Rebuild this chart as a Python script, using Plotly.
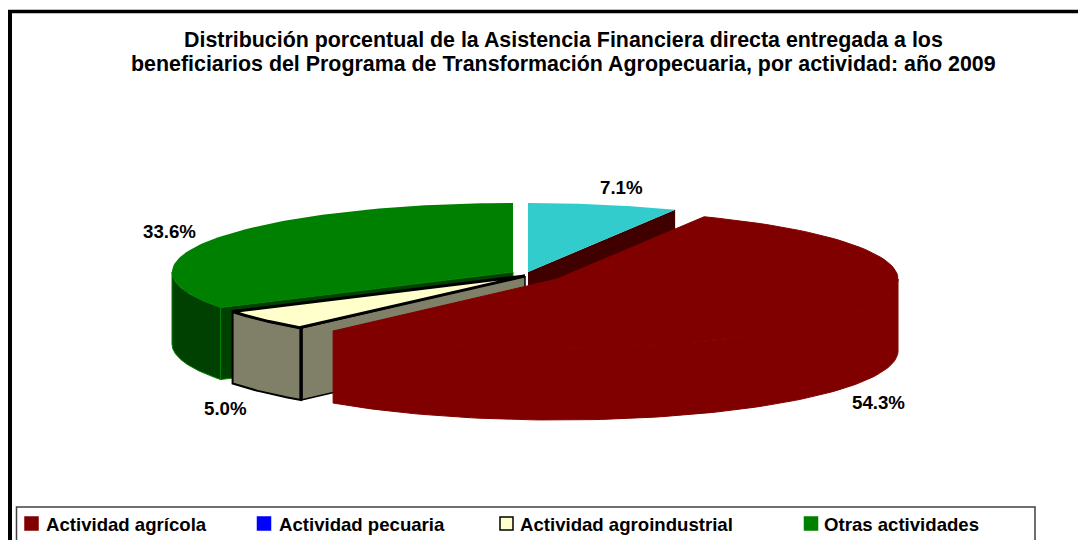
import numpy as np
import plotly.graph_objects as go

title_lines = ["Distribución porcentual de la Asistencia Financiera directa entregada a los",
               "beneficiarios del Programa de Transformación Agropecuaria, por actividad: año 2009"]
title_y = [40, 64]

# Clockwise from 12 o'clock
slice_names = ["Sin clasificar", "Actividad agrícola", "Actividad pecuaria",
               "Actividad agroindustrial", "Otras actividades"]
slice_values = [7.1, 54.3, 0.0, 5.0, 33.6]
slice_labels = ["7.1%", "54.3%", "", "5.0%", "33.6%"]

legend_names = ["Actividad agrícola", "Actividad pecuaria",
                "Actividad agroindustrial", "Otras actividades"]
legend_colors = ["#800000", "#0000FF", "#FFFFCC", "#008000"]
legend_lines = ["#800000", "#0000FF", "#000000", "#008000"]
legend_swatch_x = [31.5, 264, 506.5, 811]
legend_text_x = [46, 279, 520, 824]

# pie projection
RX, RY, DEPTH = 341.0, 69.0, 72.0
apex = {"Sin clasificar": (528, 272), "Actividad agrícola": (557, 279),
        "Actividad agroindustrial": (525, 276), "Otras actividades": (513, 272)}
FONT = "Liberation Sans, Arial, sans-serif"

total = sum(slice_values)
edges = np.cumsum([0] + slice_values) / total * 2 * np.pi


def arc(name, a0, a1, n=90):
    cx, cy = apex[name]
    t = np.linspace(a0, a1, n)
    return cx + RX * np.sin(t), cy - RY * np.cos(t)


def poly(fig, x, y, fill, line=None, width=0):
    fig.add_trace(go.Scatter(x=list(x) + [x[0]], y=list(y) + [y[0]], mode="lines",
                             fill="toself", fillcolor=fill,
                             line=dict(color=line or fill, width=width if line else 0),
                             hoverinfo="skip", showlegend=False))


def wedge(name, i):
    ax, ay = arc(name, edges[i], edges[i + 1])
    cx, cy = apex[name]
    return ax, ay, cx, cy


def outer_wall(fig, name, i, fill, line=None, width=0):
    # only the part of the rim that faces the viewer (lower half of the ellipse)
    a0 = max(edges[i], np.pi / 2)
    a1 = min(edges[i + 1], 3 * np.pi / 2)
    ax, ay = arc(name, a0, a1)
    x = np.r_[ax, ax[::-1]]
    y = np.r_[ay, ay[::-1] + DEPTH]
    poly(fig, x, y, fill, line, width)


def cut_face(fig, name, a, fill, line=None, width=0):
    cx, cy = apex[name]
    px, py = arc(name, a, a, 1)
    poly(fig, [cx, px[0], px[0], cx], [cy, py[0], py[0] + DEPTH, cy + DEPTH], fill, line, width)


def top(fig, name, i, fill, line=None, width=0):
    ax, ay, cx, cy = wedge(name, i)
    poly(fig, np.r_[cx, ax], np.r_[cy, ay], fill, line, width)


fig = go.Figure()

# green slice
outer_wall(fig, "Otras actividades", 4, "#004000", "#008000", 1)
cut_face(fig, "Otras actividades", edges[4], "#004000", "#008000", 1)
# turquoise slice
cut_face(fig, "Sin clasificar", edges[1], "#400000")
top(fig, "Sin clasificar", 0, "#33CCCC")
top(fig, "Otras actividades", 4, "#008000")
# cream slice
outer_wall(fig, "Actividad agroindustrial", 3, "#808068", "#000000", 2)
cut_face(fig, "Actividad agroindustrial", edges[3], "#808068", "#000000", 1.5)
top(fig, "Actividad agroindustrial", 3, "#FFFFCC", "#000000", 3)
px, py = arc("Actividad agroindustrial", edges[3], edges[3], 1)
fig.add_trace(go.Scatter(x=[px[0], px[0]], y=[py[0], py[0] + DEPTH], mode="lines",
                         line=dict(color="#000000", width=3.5),
                         hoverinfo="skip", showlegend=False))
# maroon slice
outer_wall(fig, "Actividad agrícola", 1, "#800000", "#800000", 1)
top(fig, "Actividad agrícola", 1, "#800000", "#800000", 1)

# legend swatches
fig.add_trace(go.Scatter(x=legend_swatch_x, y=[523.5] * 4, mode="markers",
                         marker=dict(symbol="square", size=13, color=legend_colors,
                                     line=dict(color=legend_lines, width=1.5)),
                         hoverinfo="skip", showlegend=False))

label_pos = {"Sin clasificar": (621, 187), "Actividad agrícola": (878, 402),
             "Actividad agroindustrial": (225, 408), "Otras actividades": (169, 231)}
annotations = []
for line, y in zip(title_lines, title_y):
    annotations.append(dict(x=563.3, y=y, text=f"<b>{line}</b>", showarrow=False,
                            font=dict(family=FONT, size=21.4, color="#000000")))
for name, lab in zip(slice_names, slice_labels):
    if lab:
        x, y = label_pos[name]
        annotations.append(dict(x=x, y=y, text=f"<b>{lab}</b>", showarrow=False,
                                font=dict(family=FONT, size=18.7, color="#000000")))
for name, x in zip(legend_names, legend_text_x):
    annotations.append(dict(x=x - 2, y=524, text=f"<b>{name}</b>", showarrow=False, xanchor="left",
                            font=dict(family=FONT, size=18.6, color="#000000")))

shapes = [
    dict(type="line", x0=10, x1=10, y0=11, y1=540, line=dict(color="#000000", width=4)),
    dict(type="line", x0=8, x1=1078, y0=11.5, y1=11.5, line=dict(color="#000000", width=3.5)),
    dict(type="rect", x0=16.5, x1=1035, y0=507, y1=545, line=dict(color="#404040", width=1.5)),
]

fig.update_layout(
    width=1078, height=540, autosize=False,
    margin=dict(l=0, r=0, t=0, b=0),
    paper_bgcolor="#FFFFFF", plot_bgcolor="#FFFFFF",
    xaxis=dict(range=[0, 1078], visible=False, fixedrange=True),
    yaxis=dict(range=[540, 0], visible=False, fixedrange=True),
    annotations=annotations, shapes=shapes, showlegend=False,
)
fig.write_html("out.html", config=dict(displayModeBar=False),
               post_script="document.body.style.margin='0';document.body.style.overflow='hidden';")
